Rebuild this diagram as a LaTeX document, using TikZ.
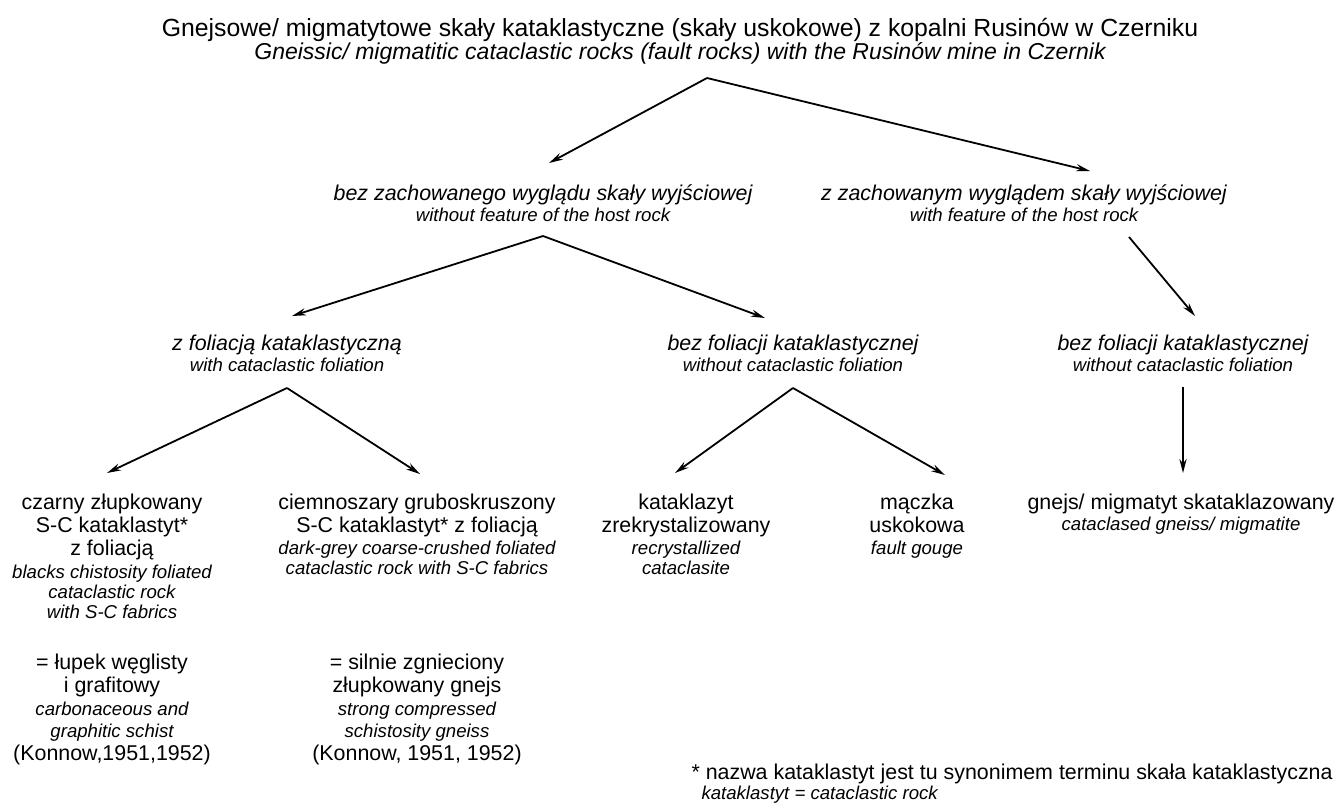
\documentclass[tikz,border=0pt]{standalone}
\usepackage{fontspec}
\setmainfont{Liberation Sans}
\usetikzlibrary{arrows.meta,calc}

\newcommand{\pl}[1]{{\fontsize{10.7}{11.5}\selectfont #1}}
\newcommand{\plit}[1]{{\fontsize{10.7}{11.5}\selectfont\itshape #1}}
\newcommand{\en}[1]{{\fontsize{9.3}{10.4}\selectfont\itshape #1}}

\begin{document}
\begin{tikzpicture}[
    x=0.5pt, y=-0.5pt,
    txt/.style={align=center, inner sep=0pt, anchor=north,
      font=\fontsize{10.7}{11.5}\selectfont},
    arr/.style={-{Stealth[length=7pt,width=3.6pt]}, line width=0.9pt}
  ]
    \useasboundingbox (0,0) rectangle (1337,804);

    % Title
    \node[txt, font=\fontsize{12.4}{12.5}\selectfont] (title) at (680,18)
      {{\fontsize{12.4}{12.5}\selectfont Gnejsowe/ migmatytowe skały kataklastyczne (skały uskokowe) z kopalni Rusinów w Czerniku}\\[-1pt]
      {\fontsize{11.5}{12}\selectfont\itshape Gneissic/ migmatitic cataclastic rocks (fault rocks) with the Rusinów mine in Czernik}};

    % Level 2
    \node[txt] (bez) at (543,184) {\plit{bez zachowanego wyglądu skały wyjściowej}\\[-1pt] \en{without feature of the host rock}};
    \node[txt] (zach) at (1024,184) {\plit{z zachowanym wyglądem skały wyjściowej}\\[-1pt] \en{with feature of the host rock}};

    % Level 3
    \node[txt] (zfol) at (287,335) {\plit{z foliacją kataklastyczną}\\[-1pt] \en{with cataclastic foliation}};
    \node[txt] (bfol) at (793,335) {\plit{bez foliacji kataklastycznej}\\[-1pt] \en{without cataclastic foliation}};
    \node[txt] (bfolr) at (1183,335) {\plit{bez foliacji kataklastycznej}\\[-1pt] \en{without cataclastic foliation}};

    % Level 4
    \node[txt] (czarny) at (112,494) {\pl{czarny złupkowany}\\ \pl{S-C kataklastyt*}\\ \pl{z foliacją}\\
      \en{blacks chistosity foliated}\\[-1.5pt] \en{cataclastic rock}\\[-1.5pt] \en{with S-C fabrics}};
    \node[txt] (ciemno) at (417,494) {\pl{ciemnoszary gruboskruszony}\\ \pl{S-C kataklastyt* z foliacją}\\[-0.5pt]
      \en{dark-grey coarse-crushed foliated}\\[-1.5pt] \en{cataclastic rock with S-C fabrics}};
    \node[txt] (kata) at (686,494) {\pl{kataklazyt}\\ \pl{zrekrystalizowany}\\[-0.5pt] \en{recrystallized}\\[-1.5pt] \en{cataclasite}};
    \node[txt] (maczka) at (917,494) {\pl{mączka}\\ \pl{uskokowa}\\[-0.5pt] \en{fault gouge}};
    \node[txt] (gnejs) at (1181,494) {\pl{gnejs/ migmatyt skataklazowany}\\[-1pt] \en{cataclased gneiss/ migmatite}};

    % Level 5
    \node[txt] (lupek) at (112,654) {\pl{= łupek węglisty}\\ \pl{i grafitowy}\\ \en{carbonaceous and}\\[-0.5pt] \en{graphitic schist}\\
      \pl{(Konnow,1951,1952)}};
    \node[txt] (silnie) at (417,654) {\pl{= silnie zgnieciony}\\ \pl{złupkowany gnejs}\\ \en{strong compressed}\\[-0.5pt] \en{schistosity gneiss}\\
      \pl{(Konnow, 1951, 1952)}};

    % Footnote
    \node[align=left, inner sep=0pt, anchor=north east, font=\fontsize{10.7}{11.5}\selectfont] (note) at (1333,764)
      {\pl{* nazwa kataklastyt jest tu synonimem terminu skała kataklastyczna}\\[-1.5pt]
       \hspace*{5pt}\en{kataklastyt = cataclastic rock}};

    % Forks
    \coordinate (titlefork) at (707,78);
    \coordinate (bezfork) at (543,236);
    \coordinate (zachfork) at (1129,237);
    \coordinate (zfolfork) at (287,388);
    \coordinate (bfolfork) at (793,388);
    \coordinate (bfolrfork) at (1183,387);

    \draw[arr] (titlefork) -- ($(bez.north)+(6,-21)$);
    \draw[arr] (titlefork) -- ($(zach.north)+(66,-13)$);
    \draw[arr] (bezfork) -- ($(zfol.north)+(5,-19)$);
    \draw[arr] (bezfork) -- ($(bfol.north)+(-28,-17)$);
    \draw[arr] (zachfork) -- ($(bfolr.north)+(12,-19)$);
    \draw[arr] (zfolfork) -- ($(czarny.north)+(-5,-21)$);
    \draw[arr] (zfolfork) -- ($(ciemno.north)+(3,-20)$);
    \draw[arr] (bfolfork) -- ($(kata.north)+(-11,-21)$);
    \draw[arr] (bfolfork) -- ($(maczka.north)+(28,-19)$);
    \draw[arr] (bfolrfork) -- ($(gnejs.north)+(2,-21)$);
  \end{tikzpicture}
\end{document}
